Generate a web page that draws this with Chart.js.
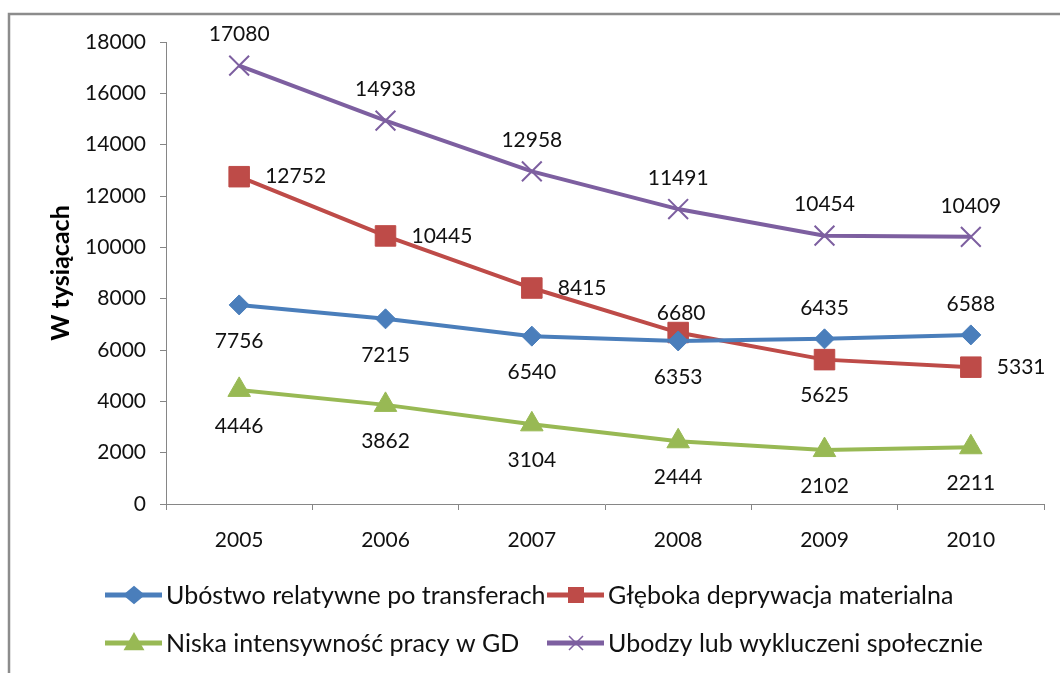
<!DOCTYPE html>
<html>
<head>
<meta charset="utf-8">
<script src="https://cdn.jsdelivr.net/npm/chart.js@4.4.0/dist/chart.umd.min.js"></script>
<style>
  html, body { margin: 0; padding: 0; background: #fff; }
  #wrap { width: 1060px; height: 673px; position: relative; }
</style>
</head>
<body>
<div id="wrap"><canvas id="c" width="1060" height="673"></canvas></div>
<script>
// ---- data ----
const years = ['2005', '2006', '2007', '2008', '2009', '2010'];
const ubostwo = [7756, 7215, 6540, 6353, 6435, 6588];
const gleboka = [12752, 10445, 8415, 6680, 5625, 5331];
const niska = [4446, 3862, 3104, 2444, 2102, 2211];
const ubodzy = [17080, 14938, 12958, 11491, 10454, 10409];
const seriesNames = [
  'Ubóstwo relatywne po transferach',
  'Głęboka deprywacja materialna',
  'Niska intensywność pracy w GD',
  'Ubodzy lub wykluczeni społecznie'
];
const yTitle = 'W tysiącach';
const yMin = 0, yMax = 18000, yStep = 2000;

// label placement per point: t = above, b = below, r = right, tr = just above
const posUbostwo = ['b', 'b', 'b', 'b', 't', 't'];
const posGleboka = ['r', 'r', 'r', 'tr', 'b', 'r'];
const posNiska = ['b', 'b', 'b', 'b', 'b', 'b'];
const posUbodzy = ['t', 't', 't', 't', 't', 't'];

const FONT = 'Lato, "Open Sans", sans-serif';
const colors = ['#4A7EBB', '#BE4B48', '#98B954', '#7D5FA0'];

function drawMarker(ctx, style, x, y, r, color, bw) {
  ctx.save();
  ctx.fillStyle = color;
  ctx.strokeStyle = color;
  ctx.lineWidth = bw;
  ctx.beginPath();
  if (style === 'rectRot') {
    ctx.moveTo(x, y - r * 0.85); ctx.lineTo(x + r, y); ctx.lineTo(x, y + r * 0.85); ctx.lineTo(x - r, y); ctx.closePath();
    ctx.fill();
  } else if (style === 'rect') {
    ctx.rect(x - r, y - r, 2 * r, 2 * r); ctx.fill();
  } else if (style === 'triangle') {
    ctx.moveTo(x, y - r); ctx.lineTo(x + r * 0.95, y + r * 0.65); ctx.lineTo(x - r * 0.95, y + r * 0.65); ctx.closePath();
    ctx.fill();
  } else if (style === 'crossRot') {
    ctx.moveTo(x - r, y - r); ctx.lineTo(x + r, y + r);
    ctx.moveTo(x + r, y - r); ctx.lineTo(x - r, y + r);
    ctx.stroke();
  }
  ctx.restore();
}

const framePlugin = {
  id: 'frame',
  beforeDraw(chart) {
    const ctx = chart.ctx;
    ctx.save();
    ctx.fillStyle = '#fff';
    ctx.fillRect(0, 0, chart.width, chart.height);
    ctx.strokeStyle = '#8c8c8c';
    ctx.lineWidth = 2.5;
    ctx.strokeRect(9, 14, chart.width + 20, chart.height + 20);
    ctx.restore();
  }
};

const labelPlugin = {
  id: 'valueLabels',
  afterDatasetsDraw(chart) {
    const ctx = chart.ctx;
    ctx.save();
    ctx.font = '21px ' + FONT;
    ctx.fillStyle = '#111';
    ctx.textBaseline = 'middle';
    chart.data.datasets.forEach((ds, di) => {
      const meta = chart.getDatasetMeta(di);
      meta.data.forEach((pt, i) => {
        const p = ds.labelPos[i];
        const txt = String(ds.data[i]);
        let x = pt.x, y = pt.y;
        ctx.textAlign = 'center';
        if (p === 't') y -= 31;
        else if (p === 'b') y += 36;
        else if (p === 'tr') { y -= 19; x += 3; }
        else if (p === 'r') { ctx.textAlign = 'left'; x += 26; }
        ctx.fillText(txt, x, y);
      });
    });
    ctx.restore();
  }
};

const legendPlugin = {
  id: 'customLegend',
  afterDraw(chart) {
    const ctx = chart.ctx;
    const cols = [105, 547];
    const rows = [595, 643];
    ctx.save();
    ctx.font = '25px ' + FONT;
    ctx.fillStyle = '#111';
    ctx.textBaseline = 'middle';
    ctx.textAlign = 'left';
    chart.data.datasets.forEach((ds, di) => {
      const x0 = cols[di % 2], y = rows[Math.floor(di / 2)];
      ctx.strokeStyle = ds.borderColor;
      ctx.lineWidth = 5;
      ctx.lineCap = 'butt';
      ctx.beginPath(); ctx.moveTo(x0, y); ctx.lineTo(x0 + 57, y); ctx.stroke();
      const ms = { rectRot: 11, rect: 8, triangle: 11, crossRot: 7 }[ds.pointStyle];
      drawMarker(ctx, ds.pointStyle, x0 + 29, y, ms, ds.borderColor, 1.5);
      ctx.fillText(ds.label, x0 + 61, y + 1);
    });
    ctx.restore();
  }
};

const chart = new Chart(document.getElementById('c'), {
  type: 'line',
  data: {
    labels: years,
    datasets: [
      { label: seriesNames[0], data: ubostwo, labelPos: posUbostwo, borderColor: colors[0], backgroundColor: colors[0],
        pointStyle: 'rectRot', pointRadius: 10, pointBorderWidth: 1 },
      { label: seriesNames[1], data: gleboka, labelPos: posGleboka, borderColor: colors[1], backgroundColor: colors[1],
        pointStyle: 'rect', pointRadius: 14.5, pointBorderWidth: 1 },
      { label: seriesNames[2], data: niska, labelPos: posNiska, borderColor: colors[2], backgroundColor: colors[2],
        pointStyle: 'triangle', pointRadius: 13, pointBorderWidth: 1 },
      { label: seriesNames[3], data: ubodzy, labelPos: posUbodzy, borderColor: colors[3], backgroundColor: colors[3],
        pointStyle: 'crossRot', pointRadius: 14, pointBorderWidth: 2 }
    ].map(d => Object.assign({ borderWidth: 4, tension: 0, fill: false, pointHoverRadius: d.pointRadius }, d))
  },
  options: {
    responsive: false,
    animation: false,
    events: [],
    layout: { padding: { left: 40, right: 15, top: 42, bottom: 0 } },
    plugins: { legend: { display: false }, tooltip: { enabled: false } },
    scales: {
      x: {
        type: 'category',
        offset: true,
        grid: { offset: true, drawOnChartArea: false, drawTicks: true, tickLength: 6, color: '#868686' },
        border: { color: '#868686', width: 1 },
        ticks: { color: '#111', font: { family: FONT, size: 21 }, padding: 18, maxRotation: 0 },
        afterFit(s) { s.height = 169; }
      },
      y: {
        min: yMin, max: yMax,
        grid: { drawOnChartArea: false, drawTicks: true, tickLength: 6, color: '#868686' },
        border: { color: '#868686', width: 1 },
        ticks: { stepSize: yStep, color: '#111', font: { family: FONT, size: 21 }, padding: 14,
                 callback: v => String(v) },
        title: { display: true, text: yTitle, color: '#000', font: { family: FONT, size: 25, weight: 'bold' }, padding: { top: 6, bottom: 0 } },
        afterFit(s) { s.width = 126; }
      }
    }
  },
  plugins: [framePlugin, labelPlugin, legendPlugin]
});
</script>
</body>
</html>
